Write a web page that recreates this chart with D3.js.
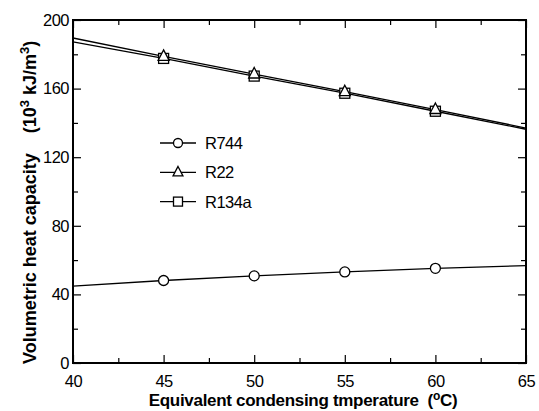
<!DOCTYPE html>
<html>
<head>
<meta charset="utf-8">
<script src="https://cdn.jsdelivr.net/npm/d3@7"></script>
<style>
  body { margin: 0; background: #fff; }
  text { font-family: Arial, "Liberation Sans", sans-serif; fill: #000; }
</style>
</head>
<body>
<div id="chart"></div>
<script>
// condensing temperature (°C) where the lines are drawn and where markers sit
const lineTemps = [40, 45, 50, 55, 60, 65];
const markerTemps = [45, 50, 55, 60];

// volumetric heat capacity (10^3 kJ/m^3)
const r744 = [44.8, 48.1, 50.8, 53.1, 55.2, 56.8];
const r22 = [189.5, 178.8, 168.5, 158.2, 147.8, 137.0];
const r134a = [187.2, 177.6, 167.3, 157.3, 146.8, 136.3];

const seriesNames = ['R744', 'R22', 'R134a'];
const xTicks = [40, 45, 50, 55, 60, 65];
const yTicks = [0, 40, 80, 120, 160, 200];

const margin = {top: 20, right: 13, bottom: 48, left: 73};
const width = 539 - margin.left - margin.right;
const height = 411 - margin.top - margin.bottom;

const svg = d3.select('#chart')
    .append('svg')
    .attr('width', 539)
    .attr('height', 411);

const g = svg.append('g')
    .attr('transform', 'translate(' + margin.left + ',' + margin.top + ')');

const x = d3.scaleLinear().domain([40, 65]).range([0, width]);
const y = d3.scaleLinear().domain([0, 200]).range([height, 0]);

const series = [
    {name: 'R134a', values: r134a, shape: 'square'},
    {name: 'R22', values: r22, shape: 'triangle'},
    {name: 'R744', values: r744, shape: 'circle'}
];

const line = d3.line()
    .x(d => x(d[0]))
    .y(d => y(d[1]));

function drawMarker(sel, shape, k) {
    k = k || 1;
    if (shape === 'circle') {
        sel.append('circle').attr('r', 5 * k);
    } else if (shape === 'square') {
        sel.append('rect').attr('x', -5 * k).attr('y', -5 * k)
            .attr('width', 10 * k).attr('height', 10 * k);
    } else {
        sel.append('path').attr('d', d3.line()([[0, -6.5 * k], [5.5 * k, 4 * k], [-5.5 * k, 4 * k]]) + 'Z');
    }
    sel.selectAll('*')
        .attr('fill', '#fff')
        .attr('stroke', '#000')
        .attr('stroke-width', 1.3);
}

// data lines
series.forEach(s => {
    g.append('path')
        .datum(lineTemps.map((t, i) => [t, s.values[i]]))
        .attr('fill', 'none')
        .attr('stroke', '#000')
        .attr('stroke-width', 1.3)
        .attr('d', line);
});

// markers
series.forEach(s => {
    markerTemps.forEach(t => {
        const i = lineTemps.indexOf(t);
        const m = g.append('g')
            .attr('transform', 'translate(' + x(t) + ',' + y(s.values[i]) + ')');
        drawMarker(m, s.shape);
    });
});

// axes: ticks point inwards on all four sides
const xMinor = d3.range(42.5, 65, 5);
const yMinor = d3.range(20, 200, 40);

function ticks(axis, scale, values, size) {
    return axis(scale).tickValues(values).tickSize(size).tickFormat('');
}

g.append('g').attr('transform', 'translate(0,' + height + ')')
    .call(d3.axisBottom(x).tickValues(xTicks).tickSize(-8).tickPadding(12).tickFormat(d3.format('d')));
g.append('g').attr('transform', 'translate(0,' + height + ')')
    .call(ticks(d3.axisBottom, x, xMinor, -5));
g.append('g').call(ticks(d3.axisTop, x, xTicks, -8));
g.append('g').call(ticks(d3.axisTop, x, xMinor, -5));

g.append('g')
    .call(d3.axisLeft(y).tickValues(yTicks).tickSize(-8).tickPadding(4).tickFormat(d3.format('d')));
g.append('g').call(ticks(d3.axisLeft, y, yMinor, -5));
g.append('g').attr('transform', 'translate(' + width + ',0)')
    .call(ticks(d3.axisRight, y, yTicks, -8));
g.append('g').attr('transform', 'translate(' + width + ',0)')
    .call(ticks(d3.axisRight, y, yMinor, -5));

g.selectAll('.domain').remove();
g.selectAll('.tick line').attr('stroke', '#000').attr('stroke-width', 1.2);
g.selectAll('.tick text')
    .attr('font-size', 16.5)
    .attr('font-family', 'Arial, "Liberation Sans", sans-serif')
    .attr('letter-spacing', -0.5)
    .attr('fill', '#000');

// frame
g.append('rect')
    .attr('width', width)
    .attr('height', height)
    .attr('fill', 'none')
    .attr('stroke', '#000')
    .attr('stroke-width', 2);

// legend
const legendRows = [
    {name: 'R744', shape: 'circle'},
    {name: 'R22', shape: 'triangle'},
    {name: 'R134a', shape: 'square'}
];
const legend = svg.append('g').attr('transform', 'translate(160,143)');
legendRows.forEach((d, i) => {
    const row = legend.append('g').attr('transform', 'translate(0,' + i * 29.3 + ')');
    row.append('line')
        .attr('x1', 0).attr('x2', 36)
        .attr('stroke', '#000').attr('stroke-width', 1.3);
    const m = row.append('g').attr('transform', 'translate(18,0)');
    drawMarker(m, d.shape, 0.9);
    row.append('text')
        .attr('x', 45)
        .attr('dy', '0.36em')
        .attr('font-size', 16.5)
        .attr('letter-spacing', -0.5)
        .text(d.name);
});

// axis titles
const xTitle = svg.append('text')
    .attr('x', 303)
    .attr('y', 406)
    .attr('text-anchor', 'middle')
    .attr('font-size', 17)
    .attr('font-weight', 'bold')
    .attr('letter-spacing', -0.3)
    .style('white-space', 'pre');
xTitle.append('tspan').text('Equivalent condensing tmperature  (');
xTitle.append('tspan').attr('dy', -6).attr('font-size', 12).text('o');
xTitle.append('tspan').attr('dy', 6).text('C)');

const yTitle = svg.append('text')
    .attr('transform', 'translate(36,364) rotate(-90)')
    .attr('text-anchor', 'start')
    .attr('font-size', 18)
    .attr('font-weight', 'bold')
    .style('white-space', 'pre');
yTitle.append('tspan').text('Volumetric heat capacity    (10');
yTitle.append('tspan').attr('dy', -7).attr('font-size', 13).text('3');
yTitle.append('tspan').attr('dy', 7).text(' kJ/m');
yTitle.append('tspan').attr('dy', -7).attr('font-size', 13).text('3');
yTitle.append('tspan').attr('dy', 7).text(')');
</script>
</body>
</html>
